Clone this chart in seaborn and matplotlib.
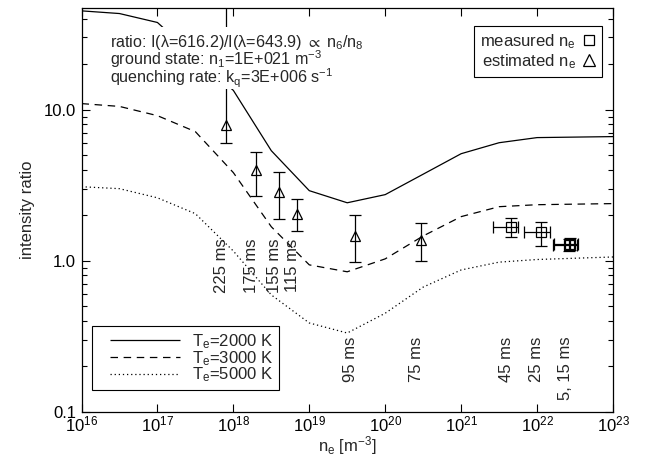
import numpy as np
import pandas as pd
import matplotlib
matplotlib.use("Agg")
import matplotlib.pyplot as plt
import seaborn as sns
from matplotlib.lines import Line2D
from matplotlib.patches import Rectangle
from matplotlib.legend_handler import HandlerLine2D
from matplotlib.ticker import FixedLocator, FixedFormatter, NullLocator, LogFormatterSciNotation

# ---------------- data ----------------
ne_model = [1.0e16, 3.16e16, 1.0e17, 3.16e17, 1.0e18, 3.16e18, 1.0e19, 3.16e19,
            1.0e20, 3.16e20, 1.0e21, 3.16e21, 1.0e22, 3.16e22, 1.0e23]
ratio_2000K = [45.0, 43.2, 37.7, 22.4, 13.4, 5.35, 2.91, 2.42, 2.74, 3.74, 5.11, 6.04, 6.53, 6.58, 6.63]
ratio_3000K = [10.96, 10.5, 9.12, 7.15, 3.83, 1.68, 0.94, 0.846, 1.03, 1.46, 1.96, 2.28, 2.35, 2.37, 2.39]
ratio_5000K = [3.09, 3.0, 2.61, 2.05, 1.16, 0.595, 0.388, 0.333, 0.45, 0.67, 0.87, 0.98, 1.02, 1.04, 1.06]
model_labels = ["T$_e$=2000 K", "T$_e$=3000 K", "T$_e$=5000 K"]

est_ne = [7.9e17, 2.0e18, 4.0e18, 6.9e18, 4.0e19, 3.0e20]
est_ratio = [7.87, 3.96, 2.85, 2.05, 1.47, 1.38]
est_lo = [6.02, 2.67, 1.88, 1.57, 0.985, 1.0]
est_hi = [80.0, 5.25, 3.87, 2.57, 2.0, 1.79]
est_labels = ["225 ms", "175 ms", "155 ms", "115 ms", "95 ms", "75 ms"]
est_label_top = [1.40, 1.40, 1.40, 1.40, 0.314, 0.314]

meas_ne = [4.49e21, 1.14e22, 2.64e22, 2.72e22]
meas_ratio = [1.67, 1.545, 1.27, 1.29]
meas_ne_lo = [2.66e21, 6.82e21, 1.60e22, 1.66e22]
meas_ne_hi = [5.69e21, 1.49e22, 3.40e22, 3.43e22]
meas_lo = [1.44, 1.26, 1.16, 1.17]
meas_hi = [1.91, 1.80, 1.40, 1.41]
meas_labels = ["45 ms", "25 ms", "5, 15 ms"]
meas_label_ne = [4.49e21, 1.14e22, 2.69e22]
meas_label_top = [0.314, 0.314, 0.314]

# ---------------- style ----------------
sns.set_style("ticks")
plt.rcParams["font.family"] = ["Liberation Sans", "DejaVu Sans"]
plt.rcParams["mathtext.fontset"] = "custom"
plt.rcParams["mathtext.rm"] = "Liberation Sans"
plt.rcParams["mathtext.it"] = "Liberation Sans:italic"
plt.rcParams["mathtext.bf"] = "Liberation Sans:bold"
plt.rcParams["mathtext.default"] = "regular"
FS = 12

W, H = 653, 457
fig = plt.figure(figsize=(W / 100, H / 100), dpi=100)
ax = fig.add_axes([81.5 / W, 1 - 412 / H, 531.5 / W, 404 / H])
ax.set_xscale("log")
ax.set_yscale("log")

df = pd.DataFrame({"ne": ne_model, "r2000": ratio_2000K, "r3000": ratio_3000K, "r5000": ratio_5000K})
styles = [(0, ()), (0, (6, 4.5)), (0, (1, 2.3))]
for col, lab, ls in zip(["r2000", "r3000", "r5000"], model_labels, styles):
    sns.lineplot(data=df, x="ne", y=col, ax=ax, color="black", linewidth=0.9,
                 linestyle=ls, label=lab, sort=False, estimator=None, zorder=2)

est_ratio_a = np.array(est_ratio)
ax.errorbar(est_ne, est_ratio,
            yerr=[est_ratio_a - np.array(est_lo), np.array(est_hi) - est_ratio_a],
            fmt="^", mfc="none", mec="black", ms=7, mew=0.9, ecolor="black",
            elinewidth=0.9, capsize=4, capthick=0.9, zorder=3)

meas_ratio_a = np.array(meas_ratio)
meas_ne_a = np.array(meas_ne)
ax.errorbar(meas_ne, meas_ratio,
            xerr=[meas_ne_a - np.array(meas_ne_lo), np.array(meas_ne_hi) - meas_ne_a],
            yerr=[meas_ratio_a - np.array(meas_lo), np.array(meas_hi) - meas_ratio_a],
            fmt="s", mfc="none", mec="black", ms=6.5, mew=0.9, ecolor="black",
            elinewidth=0.9, capsize=4, capthick=0.9, zorder=3)

for x, yt, lab in zip(est_ne, est_label_top, est_labels):
    ax.text(x, yt, lab, rotation=90, rotation_mode="anchor", ha="right", va="baseline",
            fontsize=FS, zorder=4)
for x, yt, lab in zip(meas_label_ne, meas_label_top, meas_labels):
    ax.text(x, yt, lab, rotation=90, rotation_mode="anchor", ha="right", va="baseline",
            fontsize=FS, zorder=4)

# axes
ax.set_xlim(1e16, 1e23)
ax.set_ylim(0.1, 47)
ax.xaxis.set_major_locator(FixedLocator([1e16, 1e17, 1e18, 1e19, 1e20, 1e21, 1e22, 1e23]))
ax.xaxis.set_major_formatter(LogFormatterSciNotation())
ax.xaxis.set_minor_locator(NullLocator())
ax.yaxis.set_major_locator(FixedLocator([0.1, 1.0, 10.0]))
ax.yaxis.set_major_formatter(FixedFormatter(["0.1", "1.0", "10.0"]))
minor = [m * d for d in (0.1, 1.0, 10.0) for m in range(2, 10)]
ax.yaxis.set_minor_locator(FixedLocator(minor))
ax.tick_params(which="both", direction="in", top=True, right=True, width=0.8,
               labelsize=FS, colors="black")
ax.tick_params(which="major", length=6)
ax.tick_params(which="minor", length=3.5)
ax.tick_params(axis="x", which="major", pad=1.5)
ax.tick_params(axis="y", which="major", pad=4)
for s in ax.spines.values():
    s.set_linewidth(0.9)
    s.set_color("black")
    s.set_visible(True)
ax.set_xlabel("n$_e$ [m$^{-3}$]", fontsize=FS, labelpad=0)
ax.set_ylabel("intensity ratio", fontsize=FS, labelpad=6)

# annotation text on a white background
ax.add_patch(Rectangle((0.044, 0.800), 0.53, 0.153, transform=ax.transAxes,
                       facecolor="white", edgecolor="none", zorder=5))
info = ["ratio: I(λ=616.2)/I(λ=643.9) $\\propto$ n$_6$/n$_8$",
        "ground state: n$_1$=1E+021 m$^{-3}$",
        "quenching rate: k$_q$=3E+006 s$^{-1}$"]
for txt, yb in zip(info, [0.9047, 0.8589, 0.8134]):
    ax.text(0.0536, yb, txt, transform=ax.transAxes, ha="left", va="baseline",
            fontsize=11.6, zorder=6)

# legends
leg1 = ax.legend(loc="lower left", bbox_to_anchor=(0.020, 0.054), borderaxespad=0,
                 fontsize=FS, handlelength=4.9, handletextpad=0.72, labelspacing=-0.12,
                 borderpad=0.35, fancybox=False, framealpha=1, edgecolor="black",
                 handler_map={Line2D: HandlerLine2D(xpad=0.72)})
leg1.get_frame().set_linewidth(0.8)
leg1.set_zorder(7)
ax.add_artist(leg1)

proxies = [Line2D([], [], ls="none", marker="s", mfc="none", mec="black", ms=7, mew=0.9),
           Line2D([], [], ls="none", marker="^", mfc="none", mec="black", ms=8, mew=0.9)]
leg2 = ax.legend(proxies, ["measured n$_e$", "estimated n$_e$"], loc="upper right",
                 bbox_to_anchor=(0.9788, 0.9554), borderaxespad=0, markerfirst=False,
                 fontsize=FS, handlelength=0.8, handletextpad=0.4, labelspacing=0.1,
                 borderpad=0.35, fancybox=False, framealpha=1, edgecolor="black")
leg2.get_frame().set_linewidth(0.8)
leg2.set_zorder(7)

fig.savefig("out.png", dpi=100)
